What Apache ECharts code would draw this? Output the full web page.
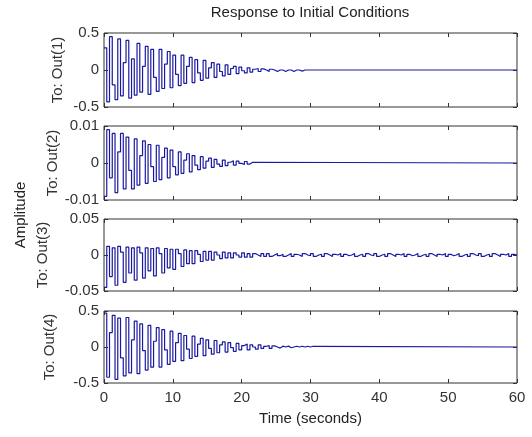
<!DOCTYPE html>
<html>
<head>
<meta charset="utf-8">
<script src="https://cdn.jsdelivr.net/npm/echarts@6/dist/echarts.min.js"></script>
<style>
html,body{margin:0;padding:0;background:#fff;}
#chart{width:532px;height:437px;}
</style>
</head>
<body>
<div id="chart"></div>
<script>
// ---- data ----
var sampleTime = 0.4;   // seconds between samples
var endTime = 60;
var outputNames = ["To: Out(1)", "To: Out(2)", "To: Out(3)", "To: Out(4)"];
var yLimits = [0.5, 0.01, 0.05, 0.5];

var out1 = [0.30, -0.43, 0.45, -0.20, -0.40, 0.42, -0.35, 0.10, 0.40, -0.38,
  0.15, -0.34, 0.36, -0.30, 0.05, 0.32, -0.33, 0.28, -0.10, -0.29,
  0.28, -0.25, 0.08, 0.25, -0.24, 0.20, -0.06, -0.21, 0.20, -0.18,
  0.05, 0.17, -0.17, 0.14, -0.04, -0.14, 0.13, -0.11, 0.03, 0.10,
  -0.10, 0.08, -0.02, -0.08, 0.07, -0.06, 0.02, 0.05, -0.05, 0.04,
  -0.01, -0.04, 0.03, -0.03, 0.01, 0.02, -0.02, 0.015, 0.0, -0.02,
  0.01, 0.0, -0.02, 0.0, 0.0, -0.02, 0.0, 0.0, -0.02, 0.0,
  0.0, -0.015, 0.0, 0.0, 0.0];

var out2 = [-0.009, 0.009, -0.004, 0.008, -0.008, 0.003, 0.008, -0.007, 0.007, -0.002,
  -0.007, 0.0065, -0.006, 0.002, 0.006, -0.0055, 0.005, -0.001, -0.005, 0.0048,
  -0.0045, 0.0015, 0.004, -0.004, 0.0035, -0.001, -0.0032, 0.003, -0.0028, 0.0008,
  0.0025, -0.0024, 0.002, -0.0006, -0.0018, 0.0017, -0.0014, 0.0005, 0.0013, -0.0012,
  0.001, -0.0003, -0.0009, 0.0008, -0.0007, 0.0002, 0.0006, -0.0006, 0.0005, -0.0001,
  -0.0004, 0.0004, -0.0003, 0.0002, 0.0];

var out3 = [-0.045, 0.012, -0.030, 0.010, -0.042, 0.012, 0.004, -0.038, 0.011, -0.025,
  0.010, -0.035, 0.011, 0.003, -0.032, 0.010, -0.022, 0.009, -0.029, 0.010,
  0.002, -0.025, 0.009, -0.018, 0.008, -0.020, 0.008, 0.002, -0.016, 0.007,
  -0.012, 0.006, -0.012, 0.006, 0.001, -0.009, 0.005, -0.007, 0.005, -0.007,
  0.004, 0.0, -0.005, 0.004, -0.004, 0.003, -0.004, 0.003, 0.0, -0.003,
  0.003, -0.003, 0.002, -0.003, 0.002, 0.0, -0.002, 0.002, -0.002, 0.002,
  -0.002, 0.0, 0.002, -0.001, 0.001, -0.002, 0.0, 0.002, -0.002, 0.001,
  0.0, -0.002, 0.002, 0.0, -0.001, 0.002, -0.002, 0.0, 0.001, -0.002,
  0.002, 0.0, -0.002, 0.001, 0.0, 0.002, -0.002, 0.001, -0.001, 0.0,
  0.002, -0.002, 0.0, 0.001, -0.002, 0.002, 0.0, -0.001, 0.002, -0.002,
  0.0, 0.001, -0.002, 0.002, 0.0, -0.002, 0.001, 0.0, 0.002, -0.002,
  0.001, -0.001, 0.0, 0.002, -0.002, 0.0, 0.001, -0.002, 0.002, 0.0,
  -0.002, 0.001, 0.0, 0.002, -0.002, 0.001, -0.001, 0.0, 0.002, -0.002,
  0.0, 0.001, -0.002, 0.002, 0.0, -0.001, 0.002, -0.002, 0.0, 0.001,
  -0.002, 0.002, 0.0, -0.002, 0.001, 0.0, 0.002, -0.002, 0.001, 0.0];

var out4 = [0.47, -0.42, 0.20, 0.44, -0.45, 0.40, -0.15, -0.40, 0.41, -0.36,
  0.10, 0.36, -0.37, 0.32, -0.05, -0.32, 0.30, -0.28, 0.08, 0.27,
  -0.28, 0.24, -0.04, -0.24, 0.22, -0.20, 0.06, 0.19, -0.19, 0.16,
  -0.03, -0.16, 0.15, -0.13, 0.04, 0.12, -0.12, 0.10, -0.02, -0.10,
  0.09, -0.08, 0.03, 0.07, -0.07, 0.06, -0.01, -0.06, 0.05, -0.04,
  0.02, 0.04, -0.04, 0.03, 0.0, -0.03, 0.03, -0.02, 0.01, 0.02,
  -0.02, 0.015, 0.0, -0.015, 0.012, 0.0, 0.012, -0.01, 0.0, 0.01,
  0.0, 0.01, 0.0, 0.01, 0.0, 0.01, 0.0];

var outputs = [out1, out2, out3, out4];

// ---- layout ----
var panelTop = [33, 126, 219, 311];
var panelHeight = [74, 74, 72, 72];
var nameGaps = [39, 44, 54, 47];
var FONT = '"Liberation Sans", Arial, sans-serif';
var lineColor = '#1a1aa0';
var tickStyle = {color: '#333'};

function toPairs(vals) {
  var pts = [];
  for (var i = 0; i < vals.length; i++) pts.push([i * sampleTime, vals[i]]);
  var last = pts[pts.length - 1];
  if (last[0] < endTime) pts.push([endTime, vals[vals.length - 1]]);
  return pts;
}

var grids = [], xAxes = [], yAxes = [], series = [];
for (var k = 0; k < 4; k++) {
  grids.push({left: 104, right: 15, top: panelTop[k], height: panelHeight[k],
    show: true, borderColor: '#333', borderWidth: 1, backgroundColor: '#fff'});
  var isLast = (k === 3);
  xAxes.push({type: 'value', gridIndex: k, min: 0, max: 60, interval: 10, position: 'bottom',
    axisLine: {show: false, onZero: false}, splitLine: {show: false},
    axisTick: {show: true, inside: true, length: 4, lineStyle: tickStyle},
    axisLabel: {show: isLast, fontFamily: FONT, fontSize: 15, color: '#333', margin: 7},
    name: isLast ? 'Time (seconds)' : '', nameLocation: 'middle', nameGap: 28,
    nameMoveOverlap: false,
    nameTextStyle: {fontFamily: FONT, fontSize: 15, color: '#222'}});
  xAxes.push({type: 'value', gridIndex: k, min: 0, max: 60, interval: 10, position: 'top',
    axisLine: {show: false, onZero: false}, splitLine: {show: false},
    axisTick: {show: true, inside: true, length: 4, lineStyle: tickStyle},
    axisLabel: {show: false}});
  var lim = yLimits[k];
  yAxes.push({type: 'value', gridIndex: k, min: -lim, max: lim, interval: lim, position: 'left',
    axisLine: {show: false, onZero: false}, splitLine: {show: false},
    axisTick: {show: true, inside: true, length: 4, lineStyle: tickStyle},
    axisLabel: {fontFamily: FONT, fontSize: 15, color: '#333', margin: 5},
    name: outputNames[k], nameLocation: 'middle', nameGap: nameGaps[k],
    nameMoveOverlap: false,
    nameTextStyle: {fontFamily: FONT, fontSize: 15, color: '#333'}});
  yAxes.push({type: 'value', gridIndex: k, min: -lim, max: lim, interval: lim, position: 'right',
    axisLine: {show: false, onZero: false}, splitLine: {show: false},
    axisTick: {show: true, inside: true, length: 4, lineStyle: tickStyle},
    axisLabel: {show: false}});
  series.push({type: 'line', xAxisIndex: 2 * k, yAxisIndex: 2 * k, step: 'end',
    showSymbol: false, symbol: 'none', animation: false,
    lineStyle: {color: lineColor, width: 1.2}, data: toPairs(outputs[k])});
}

var chart = echarts.init(document.getElementById('chart'), null, {renderer: 'canvas'});
chart.setOption({
  animation: false,
  backgroundColor: '#fff',
  grid: grids, xAxis: xAxes, yAxis: yAxes, series: series,
  graphic: [
    {type: 'text', x: 310, y: 13,
      style: {text: 'Response to Initial Conditions', font: '15px ' + FONT, fill: '#222',
        align: 'center', verticalAlign: 'middle'}},
    {type: 'text', x: 21, y: 215, rotation: Math.PI / 2,
      style: {text: 'Amplitude', font: '15px ' + FONT, fill: '#222', align: 'center', verticalAlign: 'middle'}}
  ]
});
</script>
</body>
</html>
